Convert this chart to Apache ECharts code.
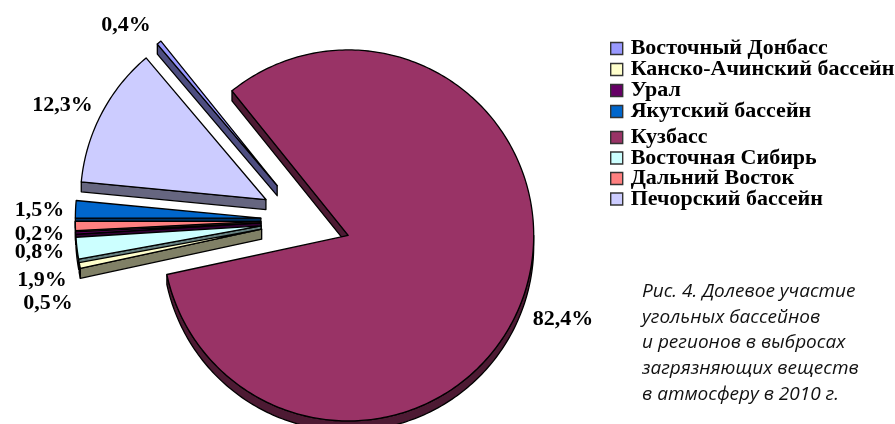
<!DOCTYPE html>
<html lang="ru">
<head>
<meta charset="utf-8">
<style>html,body{margin:0;padding:0;background:#fff}#chart{width:895px;height:424px}</style>
<script src="https://cdn.jsdelivr.net/npm/echarts@6/dist/echarts.min.js"></script>
</head>
<body>
<div id="chart"></div>
<script>
// Shares of coal basins and regions in 2010 pollutant emissions, percent.
const categories = ['Восточный Донбасс', 'Канско-Ачинский бассейн', 'Урал', 'Якутский бассейн',
  'Кузбасс', 'Восточная Сибирь', 'Дальний Восток', 'Печорский бассейн'];
const shares = [0.4, 0.5, 0.2, 1.5, 82.4, 1.9, 0.8, 12.3];
const topColors = ['#9999FF', '#FFFFCC', '#660066', '#0066CC', '#993366', '#CCFFFF', '#FF8080', '#CCCCFF'];
const sideColors = ['#4D4D80', '#808066', '#330033', '#003366', '#4D1A33', '#668080', '#804040', '#666680'];
// Order of the slices going clockwise around the pie, as indexes into categories.
const clockwiseOrder = [4, 1, 5, 2, 6, 3, 7, 0];
// Where each percentage caption sits, by category index.
const labelSpots = [[126, 25], [48, 303], [39.5, 234], [39.5, 210], [563, 319], [42, 280], [39.5, 252], [62.5, 105]];
const captionLines = ['Рис. 4. Долевое участие', 'угольных бассейнов', 'и регионов в выбросах',
  'загрязняющих веществ', 'в атмосферу в 2010 г.'];

const PIE = { cx: 305.8, cy: 220.4, r: 185.5, explode: 45, depth: 10, startDeg: -38.8 };
const rad = d => d * Math.PI / 180;
const dirOf = d => [Math.sin(rad(d)), -Math.cos(rad(d))];

// Clockwise degree range of every slice, counted from twelve o'clock.
const total = shares.reduce((a, b) => a + b, 0);
const spans = {};
let cursor = PIE.startDeg;
clockwiseOrder.forEach(i => {
  const end = cursor + shares[i] / total * 360;
  spans[i] = [cursor, end];
  cursor = end;
});

function arcPoints(apex, from, to) {
  const steps = Math.max(2, Math.ceil(Math.abs(to - from)));
  const pts = [];
  for (let k = 0; k <= steps; k++) {
    const d = dirOf(from + (to - from) * k / steps);
    pts.push([apex[0] + d[0] * PIE.r, apex[1] + d[1] * PIE.r]);
  }
  return pts;
}
const lowered = p => [p[0], p[1] + PIE.depth];

function sliceRenderer(i) {
  return function () {
    const [a0, a1] = spans[i];
    const mid = dirOf((a0 + a1) / 2);
    const apex = [PIE.cx + mid[0] * PIE.explode, PIE.cy + mid[1] * PIE.explode];
    const edge = { stroke: '#000', lineWidth: 1.3, lineJoin: 'round' };
    const sideStyle = Object.assign({ fill: sideColors[i] }, edge);
    const children = [];
    const wall = pts => children.push({ type: 'polygon', shape: { points: pts }, style: sideStyle });

    // Radial walls that face the viewer's lower side.
    if (Math.sin(rad(a0)) < 0) {
      const outer = arcPoints(apex, a0, a0 + 0.001)[0];
      wall([apex, outer, lowered(outer), lowered(apex)]);
    }
    if (Math.sin(rad(a1)) > 0) {
      const outer = arcPoints(apex, a1, a1 + 0.001)[0];
      wall([apex, outer, lowered(outer), lowered(apex)]);
    }
    // Rim wall: only the part of the arc turned downwards shows.
    const rimFrom = Math.max(a0, 90);
    const rimTo = Math.min(a1, 270);
    if (rimTo > rimFrom) {
      const rim = arcPoints(apex, rimFrom, rimTo);
      wall(rim.concat(rim.map(lowered).reverse()));
    }
    // Top face.
    children.push({
      type: 'polygon',
      shape: { points: [apex].concat(arcPoints(apex, a0, a1)) },
      style: Object.assign({ fill: topColors[i] }, edge)
    });
    return { type: 'group', children };
  };
}

// Upper slices go first so that lower neighbours cover their walls.
const drawOrder = clockwiseOrder.slice().reverse();
const series = drawOrder.map(i => ({
  type: 'custom',
  name: categories[i],
  coordinateSystem: 'none',
  silent: true,
  animation: false,
  clip: false,
  itemStyle: { color: topColors[i] },
  data: [[shares[i]]],
  renderItem: sliceRenderer(i)
}));

// Percentage captions, worded from the same shares the slices use.
series.push({
  type: 'custom',
  name: 'labels',
  coordinateSystem: 'none',
  silent: true,
  animation: false,
  z: 5,
  data: shares.map((s, i) => [s, i]),
  renderItem: function (params, api) {
    const i = api.value(1);
    return {
      type: 'text',
      style: {
        text: api.value(0).toFixed(1).replace('.', ',') + '%',
        x: labelSpots[i][0],
        y: labelSpots[i][1],
        align: 'center',
        verticalAlign: 'middle',
        fill: '#000',
        font: 'bold 22px "Liberation Serif"'
      }
    };
  }
});

const legendBase = {
  orient: 'vertical',
  left: 610,
  itemWidth: 12,
  itemHeight: 12,
  padding: 0,
  selectedMode: false,
  icon: 'rect',
  itemStyle: { borderColor: '#333', borderWidth: 1.4 },
  textStyle: { fontFamily: 'Liberation Serif', fontWeight: 'bold', fontSize: 22, color: '#000', lineHeight: 21, height: 21, padding: [0, 0, 0, 3] }
};

const chart = echarts.init(document.getElementById('chart'), null, { renderer: 'canvas' });
chart.setOption({
  backgroundColor: '#fff',
  animation: false,
  title: {
    text: captionLines.join('\n'),
    left: 642,
    top: 279,
    padding: 0,
    textStyle: { fontFamily: 'Open Sans', fontStyle: 'italic', fontWeight: 'normal', fontSize: 19, lineHeight: 25.6, color: '#111' }
  },
  legend: [
    Object.assign({}, legendBase, { top: 37.5, itemGap: -1, data: categories.slice(0, 4) }),
    Object.assign({}, legendBase, { top: 126.5, itemGap: -1.5, data: categories.slice(4) })
  ],
  series
});
</script>
</body>
</html>
